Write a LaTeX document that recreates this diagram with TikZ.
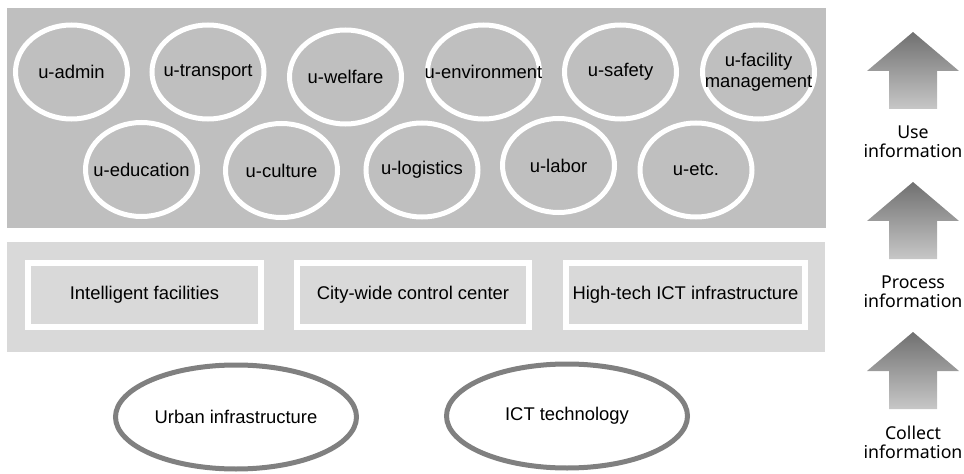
\documentclass[tikz,border=0pt]{standalone}
\usepackage{fontspec}
\setmainfont{Liberation Sans}
\newfontfamily\sidefont{Noto Sans}
\usepackage{tikz}
\usetikzlibrary{shapes.geometric}
\definecolor{topgray}{HTML}{BFBFBF}
\definecolor{midgray}{HTML}{D9D9D9}
\definecolor{ringgray}{HTML}{808080}

\begin{document}
\begin{tikzpicture}[x=0.75pt, y=-0.75pt,
    every label/.style={align=center, font=\fontsize{13.8}{15.75}\selectfont},
    service/.style={ellipse, draw=white, line width=3.75pt, minimum width=84pt, minimum height=70.5pt, inner sep=0pt},
    layer/.style={draw=white, line width=4.5pt, fill=midgray, minimum height=48pt, inner sep=0pt, font=\fontsize{13.8}{15.75}\selectfont},
    base/.style={ellipse, draw=ringgray, fill=white, line width=3.75pt, minimum width=180.75pt, minimum height=78pt, inner sep=0pt},
    flowtext/.style={align=center, font=\sidefont\fontsize{13.3}{14.25}\selectfont}]
    \useasboundingbox (0,0) rectangle (964,474);

    % panels
    \fill[topgray] (7,8) rectangle (826,228);
    \fill[midgray] (7,242) rectangle (825,352);

    % services
    \node[service, label=center:{u-admin}] (admin) at (71.5,72) {};
    \node[service, label=center:{u-transport}] (transport) at (208,72) {};
    \node[service, label=center:{u-welfare}] (welfare) at (345.5,77) {};
    \node[service, label=center:{u-environment}] (environment) at (483.5,72) {};
    \node[service, label=center:{u-safety}] (safety) at (620.5,72) {};
    \node[service, label=center:{u-facility\\management}] (facility) at (758.5,72) {};
    \node[service, label=center:{u-education}] (education) at (141.5,169.5) {};
    \node[service, label=center:{u-culture}] (culture) at (281.5,170.5) {};
    \node[service, label=center:{u-logistics}] (logistics) at (422,170) {};
    \node[service, label=center:{u-labor}] (labor) at (558.5,165.5) {};
    \node[service, label=center:{u-etc.}] (etc) at (696,170) {};

    % infrastructure
    \node[layer, minimum width=174.75pt] (facilities) at (144.5,295) {Intelligent facilities};
    \node[layer, minimum width=174pt] (control) at (413,295) {City-wide control center};
    \node[layer, minimum width=179.25pt] (ict) at (685.5,295) {High-tech ICT infrastructure};

    \node[base, label=center:{Urban infrastructure}] (urban) at (236,417) {};
    \node[base, label=center:{ICT technology}] (tech) at (567,416) {};

    % flow arrows
    \shade[top color=black!56, bottom color=black!22] (913,32) -- (959,71) -- (937,71) -- (937,109) -- (889,109) -- (889,71) -- (867,71) -- cycle;
    \shade[top color=black!56, bottom color=black!22] (913,182) -- (959,221) -- (937,221) -- (937,259) -- (889,259) -- (889,221) -- (867,221) -- cycle;
    \shade[top color=black!56, bottom color=black!22] (913,332) -- (959,371) -- (937,371) -- (937,409) -- (889,409) -- (889,371) -- (867,371) -- cycle;
    \node[flowtext] (use) at (913,142) {Use\\information};
    \node[flowtext] (process) at (913,292) {Process\\information};
    \node[flowtext] (collect) at (913,442) {Collect\\information};
\end{tikzpicture}
\end{document}
